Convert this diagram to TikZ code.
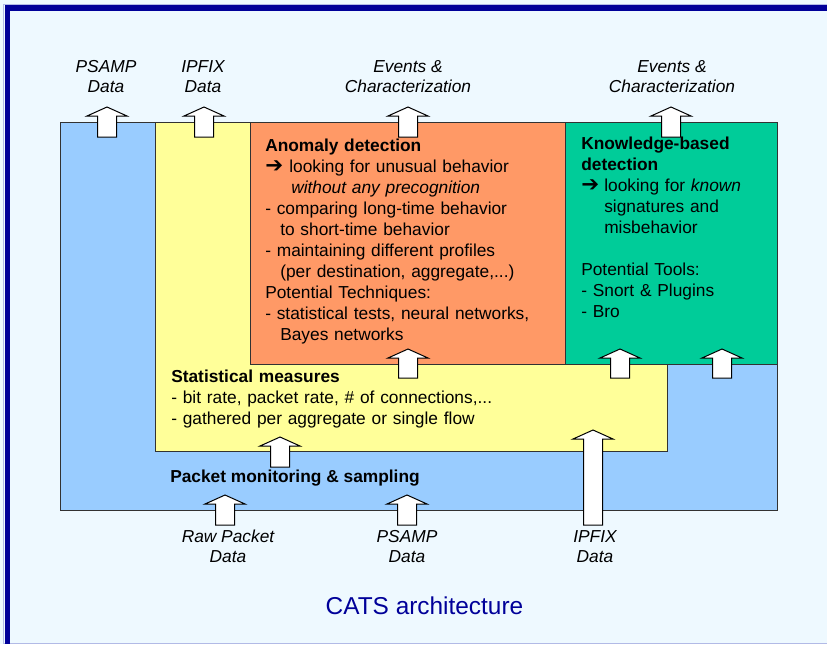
\documentclass[tikz,border=0pt]{standalone}
\usepackage{fontspec}
\setmainfont{Liberation Sans}
\newfontfamily\symfont{DejaVu Sans}
\definecolor{pagebg}{RGB}{238,249,255}
\definecolor{framelav}{RGB}{178,186,230}
\definecolor{framedark}{RGB}{0,0,153}
\definecolor{pmblue}{RGB}{153,204,255}
\definecolor{statyellow}{RGB}{255,255,153}
\definecolor{anomorange}{RGB}{255,153,102}
\definecolor{kbgreen}{RGB}{0,204,153}
\definecolor{edgegray}{RGB}{50,50,50}

\newcommand\bodysize{\fontsize{13pt}{15.75pt}\selectfont}
\newcommand\rarrow{{\symfont\bfseries\fontsize{16pt}{16pt}\selectfont\raisebox{-0.5pt}{➔}}}
% block arrow pointing up: centre x, bottom y, tip y (pixel units)
\newcommand\blockup[3]{%
  \draw[blockarrow] (#1-9.5,#2) -- (#1-9.5,#3+9) -- (#1-20,#3+9) -- (#1,#3)
    -- (#1+20,#3+9) -- (#1+9.5,#3+9) -- (#1+9.5,#2) -- cycle;}

\tikzset{
  layer/.style={draw=edgegray, line width=0.75pt},
  blockarrow/.style={draw=black, fill=white, line width=0.75pt, line join=miter},
  boxtext/.style={anchor=base west, inner sep=0pt, align=left, font=\bodysize},
  iolabel/.style={anchor=base, inner sep=0pt, align=center,
    font=\fontsize{13pt}{15pt}\selectfont\itshape},
}

\begin{document}
\begin{tikzpicture}[x=0.75pt, y=-0.75pt]
\useasboundingbox (0,0) rectangle (827,644);
% page background and frame
\fill[pagebg] (0,0) rectangle (827,644);
\draw[framelav, line width=1pt] (3.5,4.5) rectangle (840,643.5);
\draw[framedark, line width=4pt] (5,8) -- (827,8);
\draw[framedark, line width=4pt] (7.3,6) -- (7.3,644);

% nested layers
\draw[layer, fill=pmblue] (60,122) rectangle (777,510);
\draw[layer, fill=statyellow] (155,122) rectangle (667,451);
\draw[layer, fill=anomorange] (250,122) rectangle (565,364);
\draw[layer, fill=kbgreen] (565,122) rectangle (777,364);

% box texts
\node[boxtext, text width=300pt] (anom) at (265,151) {%
\textbf{Anomaly detection}\\
\makebox[18pt][l]{\rarrow}looking for unusual behavior\\
\hspace*{19.5pt}\textit{without any precognition}\\
- comparing long-time behavior\\
\hspace*{11.25pt}to short-time behavior\\
- maintaining different profiles\\
\hspace*{11.25pt}(per destination, aggregate,...)\\
Potential Techniques:\\
- statistical tests, neural networks,\\
\hspace*{11.25pt}Bayes networks};

\node[boxtext, text width=150pt] (kb) at (581,149) {%
\textbf{Knowledge-based}\\
\textbf{detection}\\
\makebox[17.25pt][l]{\rarrow}looking for \textit{known}\\
\hspace*{17.25pt}signatures and\\
\hspace*{17.25pt}misbehavior\\
\mbox{}\\
Potential Tools:\\
- Snort \& Plugins\\
- Bro};

\node[boxtext, text width=320pt] (stat) at (171,382) {%
\textbf{Statistical measures}\\
- bit rate, packet rate, \# of connections,...\\
- gathered per aggregate or single flow};

\node[boxtext] (pm) at (170,482) {\textbf{Packet monitoring \& sampling}};

% outputs at the top (anchored on the last line)
\node[iolabel] (outpsamp) at (106,92) {PSAMP\\Data};
\node[iolabel] (outipfix) at (203,92) {IPFIX\\Data};
\node[iolabel] (outanom) at (408,92) {Events \&\\Characterization};
\node[iolabel] (outkb) at (672,92) {Events \&\\Characterization};

% inputs at the bottom
\node[iolabel] (inraw) at (228,562) {Raw Packet\\Data};
\node[iolabel] (inpsamp) at (407,562) {PSAMP\\Data};
\node[iolabel] (inipfix) at (595,562) {IPFIX\\Data};

% caption
\node[anchor=base, inner sep=0pt, text=framedark,
  font=\fontsize{18.3pt}{22pt}\selectfont] (caption) at (424.5,614) {CATS architecture};

% data flow arrows
\blockup{107}{137}{107}
\blockup{204}{137}{107}
\blockup{408}{137}{107}
\blockup{671}{137}{107}
\blockup{408}{378}{349}
\blockup{620}{378}{349}
\blockup{722}{378}{349}
\blockup{280}{467}{437}
\blockup{225}{525}{495}
\blockup{407}{525}{495}
\blockup{593}{525}{430}
\end{tikzpicture}
\end{document}
